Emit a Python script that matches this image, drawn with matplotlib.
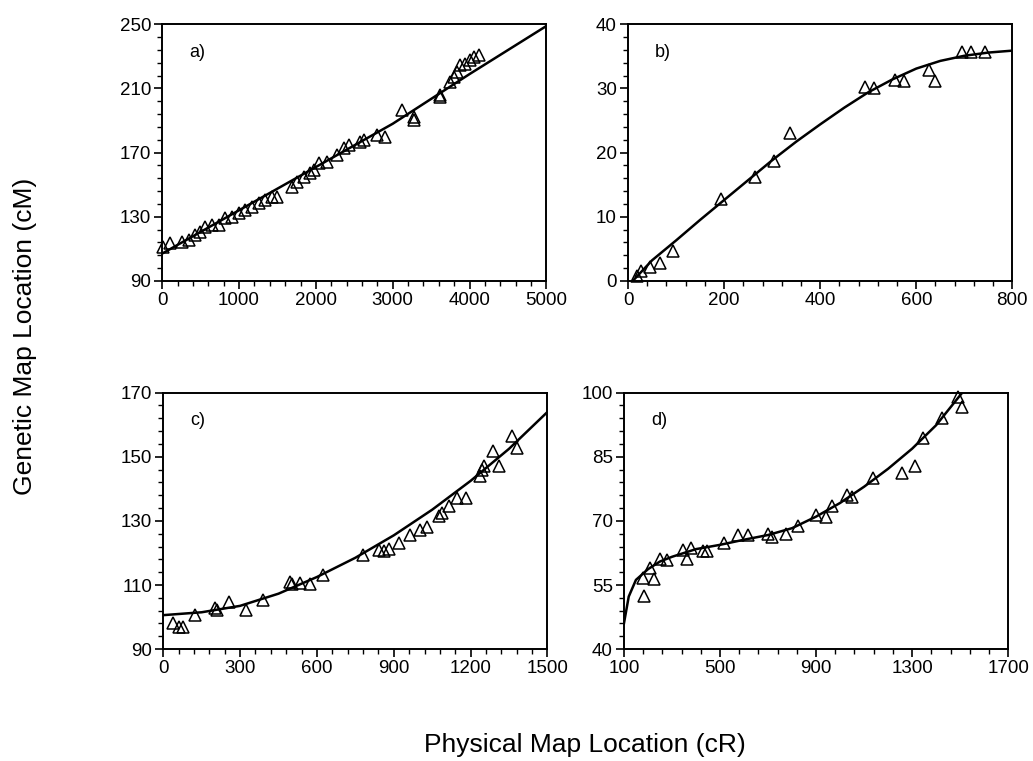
import matplotlib
matplotlib.use('Agg')
import matplotlib.pyplot as plt
from matplotlib.ticker import MultipleLocator

plt.rcParams['font.family'] = ['Liberation Sans', 'DejaVu Sans']

# panel a)
a_x = [17, 104, 256, 343, 430, 495, 560, 647, 733, 820, 907, 994, 1081, 1168,
       1254, 1341, 1428, 1493, 1688, 1753, 1840, 1927, 1970, 2036, 2144, 2274,
       2361, 2426, 2578, 2621, 2795, 2904, 3121, 3273, 3273, 3620, 3620, 3750,
       3793, 3837, 3880, 3945, 4010, 4054, 4119]
a_y = [111.4, 113.5, 114.5, 115.5, 118.6, 120.7, 123.8, 124.9, 124.9, 129,
       130, 132.1, 134.2, 136.3, 138.4, 140.4, 142.5, 142.5, 148.7, 151.8, 155,
       157, 159.1, 163.3, 164.3, 168.5, 172.6, 174.7, 176.8, 177.8, 180.9,
       179.9, 196.5, 192.3, 190.2, 205.8, 204.8, 214.1, 217.2, 220.3, 224.5,
       225.5, 227.6, 229.7, 230.7]
a_fit_x = [0, 1000, 2000, 3000, 4000, 5000]
a_fit_y = [107, 134, 161, 188, 219, 249]

# panel b)
b_x = [19, 26, 46, 67, 94, 193, 265, 304, 338, 494, 511, 556, 575, 626, 640,
       695, 713, 744]
b_y = [0.7, 1.5, 2.2, 2.8, 4.7, 12.7, 16.2, 18.7, 23.1, 30.2, 30.1, 31.3, 31.2,
       32.9, 31.2, 35.7, 35.7, 35.7]
b_fit_x = [10, 50, 100, 150, 200, 250, 300, 350, 400, 450, 500, 550, 600, 650,
           700, 750, 800]
b_fit_y = [0, 3.2, 6.3, 9.5, 12.6, 15.7, 18.8, 21.7, 24.4, 27.0, 29.4, 31.4,
           33.1, 34.3, 35.1, 35.6, 35.9]

# panel c)
c_x = [40, 60, 79, 125, 203, 210, 255, 324, 389, 496, 503, 533, 574, 624, 780,
       841, 861, 880, 919, 965, 1004, 1030, 1076, 1089, 1115, 1147, 1180, 1238,
       1245, 1251, 1288, 1310, 1362, 1382]
c_y = [98, 97, 97, 100.6, 102.7, 102.2, 104.8, 102.2, 105.3, 111, 110.3, 110.7,
       110.3, 113.1, 119.4, 120.9, 120.7, 121.1, 123.2, 125.6, 127.2, 128.2,
       131.4, 132.4, 134.5, 137.1, 137.1, 143.9, 145.9, 147, 151.7, 147,
       156.4, 152.7]
c_fit_x = [0, 150, 300, 450, 600, 750, 900, 1050, 1200, 1350, 1500]
c_fit_y = [100.6, 101.5, 103.5, 107.3, 112.5, 118.5, 125.5, 133.5, 142.5, 152.5,
           164]

# panel d)
d_x = [178, 183, 208, 225, 250, 281, 344, 364, 378, 431, 447, 517, 576, 618,
       701, 715, 775, 826, 900, 942, 965, 1028, 1049, 1139, 1257, 1310, 1347,
       1424, 1493, 1507]
d_y = [56.6, 52.4, 58.9, 56.3, 61, 60.9, 63.2, 61.2, 63.6, 63, 63, 64.8, 66.7,
       66.7, 67, 66.3, 67, 68.7, 71.4, 71, 73.4, 76.1, 75.7, 80, 81.2, 82.9,
       89.4, 94.1, 99.1, 96.6]
d_fit_x = [100, 120, 150, 200, 250, 300, 400, 500, 600, 700, 800, 900, 1000,
           1100, 1200, 1300, 1400, 1500, 1520]
d_fit_y = [46, 52.3, 56.2, 58.7, 60.5, 61.6, 63.4, 64.4, 65.6, 66.7, 68.3, 71,
           74.2, 78.0, 82.2, 86.9, 92.4, 99.4, 100.8]

panels = [
    ('a)', a_x, a_y, a_fit_x, a_fit_y, (0, 5000), 1000, 200, (90, 250), 40, 8,
     [0.157, 0.631, 0.372, 0.337]),
    ('b)', b_x, b_y, b_fit_x, b_fit_y, (0, 800), 200, 40, (0, 40), 10, 2,
     [0.608, 0.631, 0.372, 0.337]),
    ('c)', c_x, c_y, c_fit_x, c_fit_y, (0, 1500), 300, 60, (90, 170), 20, 4,
     [0.158, 0.147, 0.372, 0.337]),
    ('d)', d_x, d_y, d_fit_x, d_fit_y, (100, 1700), 400, 80, (40, 100), 15, 3,
     [0.604, 0.147, 0.372, 0.337]),
]

fig = plt.figure(figsize=(10.33, 7.61), dpi=100)

for label, px, py, fx, fy, xlim, xmaj, xmin, ylim, ymaj, ymin, rect in panels:
    ax = fig.add_axes(rect)
    ax.plot(fx, fy, color='black', lw=1.8, clip_on=True)
    ax.plot(px, py, linestyle='none', marker='^', ms=9, mfc='none',
            mec='black', mew=1.1, clip_on=False)
    ax.set_xlim(*xlim)
    ax.set_ylim(*ylim)
    # ticks counted from the axis minimum, not from zero
    ax.xaxis.set_major_locator(MultipleLocator(xmaj, offset=xlim[0]))
    ax.xaxis.set_minor_locator(MultipleLocator(xmin, offset=xlim[0]))
    ax.yaxis.set_major_locator(MultipleLocator(ymaj, offset=ylim[0]))
    ax.yaxis.set_minor_locator(MultipleLocator(ymin, offset=ylim[0]))
    ax.tick_params(which='major', direction='out', length=6, width=1.2,
                   labelsize=13.5, pad=2)
    ax.tick_params(which='minor', direction='out', length=3.5, width=1)
    for s in ax.spines.values():
        s.set_linewidth(1.4)
    ax.text(0.07, 0.89, label, transform=ax.transAxes, fontsize=13,
            ha='left', va='center')

fig.text(0.024, 0.558, 'Genetic Map Location (cM)', rotation=90,
         fontsize=19, ha='center', va='center')
fig.text(0.566, 0.012, 'Physical Map Location (cR)', fontsize=19,
         ha='center', va='baseline')

fig.savefig('out.png', dpi=100)
